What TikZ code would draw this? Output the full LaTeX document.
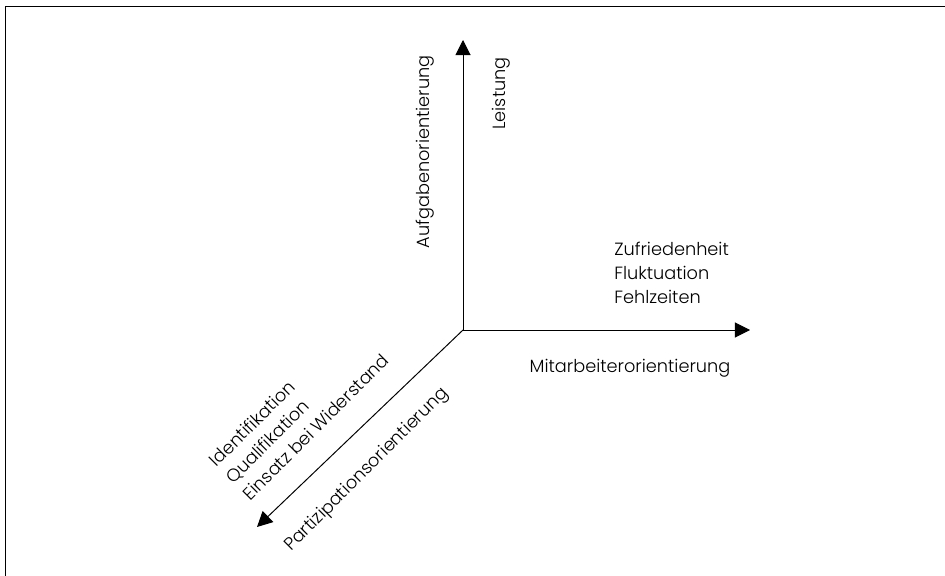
\documentclass[tikz,border=0pt]{standalone}
\usepackage{fontspec}
\setmainfont{Poppins}[UprightFont=* Light]
\usetikzlibrary{arrows.meta,positioning}
\tikzset{
  >={Triangle[length=3.8mm,width=3.8mm]},
  achse/.style={->, line width=0.7pt},
  lbl/.style={inner sep=0pt, font=\fontsize{12.6}{17}\selectfont, align=left},
}
\begin{document}
\begin{tikzpicture}[x=0.025cm,y=-0.025cm]
  \useasboundingbox (0,0) rectangle (945,576);
  \draw[line width=1pt] (5.5,576) -- (5.5,6.5) -- (945,6.5);

  \coordinate (o) at (463,330);
  \coordinate (oben) at (463,40);
  \coordinate (rechts) at (750,330);
  \coordinate (links) at (257,527);

  \draw[achse] (o) -- (oben);
  \draw[achse] (o) -- (rechts);
  \draw[achse] (o) -- (links);

  \node[lbl, rotate=90, anchor=base east] (aufgabe) at (429,55) {Aufgabenorientierung};
  \node[lbl, rotate=90, anchor=base east] (leistung) at (505,57) {Leistung};

  \node[lbl, anchor=north west] (ergebnis) at (614,242) {Zufriedenheit\\Fluktuation\\Fehlzeiten};
  \node[lbl, anchor=base] (mitarbeiter) at (630,372) {Mitarbeiterorientierung};

  \node[lbl, rotate=45, anchor=north west] (ziele) at (207,458) {Identifikation\\Qualifikation\\Einsatz bei Widerstand};
  \node[lbl, rotate=45] (partizipation) at (367,470) {Partizipationsorientierung};
\end{tikzpicture}
\end{document}
